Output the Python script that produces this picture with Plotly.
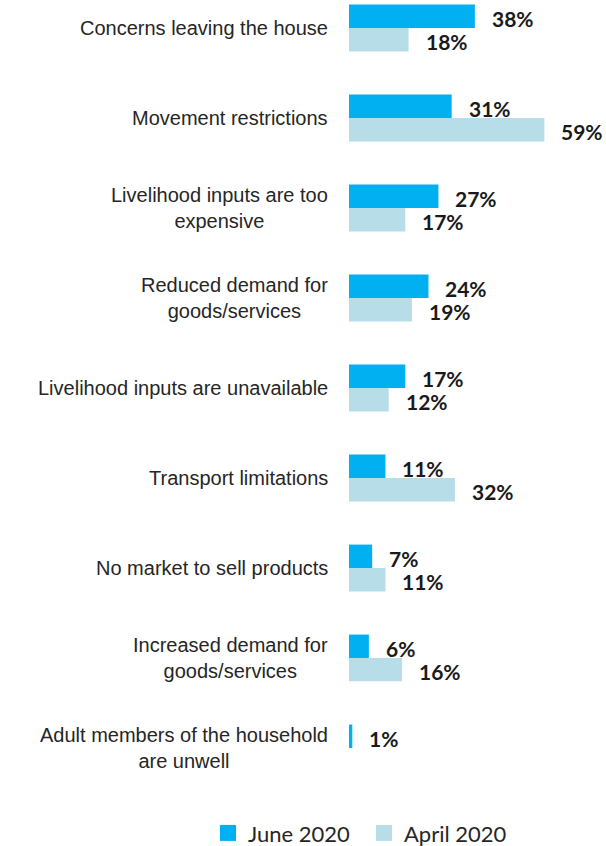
import plotly.graph_objects as go

categories = [
    "Concerns leaving the house",
    "Movement restrictions",
    "Livelihood inputs are too<br>expensive",
    "Reduced demand for<br>goods/services",
    "Livelihood inputs are unavailable",
    "Transport limitations",
    "No market to sell products",
    "Increased demand for<br>goods/services",
    "Adult members of the household<br>are unwell",
]
june_2020 = [38, 31, 27, 24, 17, 11, 7, 6, 1]
april_2020 = [18, 59, 17, 19, 12, 32, 11, 16, 0]
series_names = ["June 2020", "April 2020"]

JUNE_COLOR = "#00B0F0"
APRIL_COLOR = "#B7DEE8"
BARGAP = 0.48

fig = go.Figure()
for name, vals, color in ((series_names[0], june_2020, JUNE_COLOR),
                          (series_names[1], april_2020, APRIL_COLOR)):
    fig.add_trace(go.Bar(
        y=categories, x=vals, orientation="h", name=name, showlegend=False,
        legendgroup=name, marker=dict(color=color, line=dict(width=0)),
    ))
# square legend keys, one legend box per series
for name, color, leg in ((series_names[0], JUNE_COLOR, "legend"),
                         (series_names[1], APRIL_COLOR, "legend2")):
    fig.add_trace(go.Scatter(
        x=[None], y=[None], mode="markers", name=name, legendgroup=name,
        legend=leg, marker=dict(symbol="square", size=18, color=color),
    ))

annotations = []
# category labels, centred lines, right-aligned to the axis
for cat in categories:
    annotations.append(dict(
        xref="paper", yref="y", x=0, y=cat, text=cat, showarrow=False,
        xanchor="right", yanchor="middle", align="center", xshift=-19,
        font=dict(family="Liberation Sans, Arial", size=20, color="#262626"),
    ))

# value labels next to each bar (each bar is half of the group width)
offset = (1 - BARGAP) / 4
for i, cat in enumerate(categories):
    for val, dy in ((june_2020[i], -offset), (april_2020[i], offset)):
        if val <= 0:
            continue
        annotations.append(dict(
            xref="x", yref="y", x=val, y=i + dy, text=f"<b>{val}%</b>",
            showarrow=False, xanchor="left", yanchor="middle", xshift=15, yshift=-2,
            font=dict(family="Lato, Open Sans", size=21, color="#1a1a1a"),
        ))

legend_style = dict(
    orientation="h", xref="container", yref="paper", xanchor="left",
    y=-0.028, yanchor="top", itemwidth=30, bgcolor="rgba(0,0,0,0)",
    font=dict(family="Lato, Open Sans", size=22, color="#262626"),
)

fig.update_layout(
    width=606, height=846,
    margin=dict(l=349, r=2, t=0, b=56, autoexpand=False),
    plot_bgcolor="white", paper_bgcolor="white",
    barmode="group", bargap=BARGAP, bargroupgap=0,
    showlegend=True,
    legend=dict(x=208 / 606, **legend_style),
    legend2=dict(x=364 / 606, **legend_style),
    xaxis=dict(range=[0, 77], visible=False, fixedrange=True),
    yaxis=dict(
        type="category", range=[8.467, -0.311], showticklabels=False,
        showgrid=False, zeroline=False, showline=False,
    ),
    annotations=annotations,
)

fig.write_html("out.html")
